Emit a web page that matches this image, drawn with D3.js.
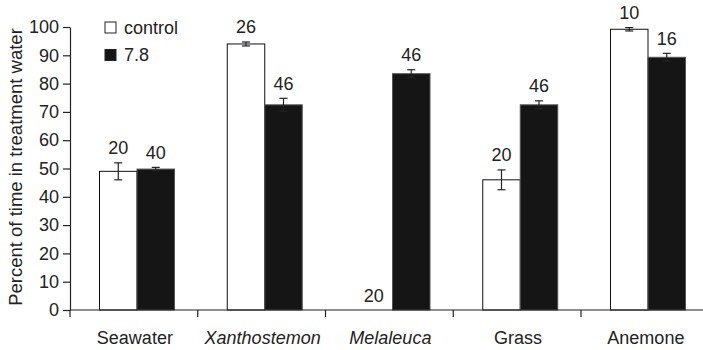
<!DOCTYPE html>
<html><head><meta charset="utf-8">
<script src="https://cdn.jsdelivr.net/npm/d3@7"></script>
<style>body{margin:0;background:#fff}svg{display:block;font-family:"Liberation Sans",Arial,sans-serif}</style>
</head><body><svg id="c" width="703" height="350"></svg>
<script>
const categories = ["Seawater","Xanthostemon","Melaleuca","Grass","Anemone"];
const italicCats = ["Xanthostemon","Melaleuca"];
const series = ["control","7.8"];
const controlMean = [49, 94, 0, 46, 99.2];
const controlErr  = [3, 0.7, 0, 3.5, 0.6];
const controlN    = [20, 26, 20, 20, 10];
const phMean = [49.8, 72.5, 83.5, 72.5, 89.3];
const phErr  = [0.6, 2.3, 1.4, 1.4, 1.4];
const phN    = [40, 46, 46, 46, 16];
const yTicks = [0,10,20,30,40,50,60,70,80,90,100];

const svg = d3.select("#c");
const x = d3.scaleBand().domain(categories).range([70, 708.75]).padding(0);
const x1 = d3.scaleBand().domain(series).range([29.5, 104.5]).padding(0);
const y = d3.scaleLinear().domain([0,100]).range([310, 27]);
const fills = {"control":"#fff","7.8":"#151515"};
const FS = 18;

const rows = [];
categories.forEach((c,i)=>{
  rows.push({c, s:"control", v:controlMean[i], e:controlErr[i], n:controlN[i]});
  rows.push({c, s:"7.8", v:phMean[i], e:phErr[i], n:phN[i]});
});

const g = svg.append("g");
g.selectAll("rect.bar").data(rows.filter(d=>d.v>0)).join("rect")
  .attr("x", d=>x(d.c)+x1(d.s)).attr("width", x1.bandwidth())
  .attr("y", d=>y(d.v)).attr("height", d=>y(0)-y(d.v))
  .attr("fill", d=>fills[d.s]).attr("stroke", d=>d.s==="control"?"#111":"#555").attr("stroke-width",1);

const cx = d=>x(d.c)+x1(d.s)+x1.bandwidth()/2;
const eb = g.selectAll("g.eb").data(rows.filter(d=>d.e>0)).join("g");
eb.append("line").attr("x1",cx).attr("x2",cx)
  .attr("y1",d=>y(d.v+d.e)).attr("y2",d=>y(d.v-d.e)).attr("stroke","#222").attr("stroke-width",1.2);
eb.append("line").attr("x1",d=>cx(d)-4).attr("x2",d=>cx(d)+4)
  .attr("y1",d=>y(d.v+d.e)).attr("y2",d=>y(d.v+d.e)).attr("stroke","#222").attr("stroke-width",1.2);
eb.append("line").attr("x1",d=>cx(d)-4).attr("x2",d=>cx(d)+4)
  .attr("y1",d=>y(d.v-d.e)).attr("y2",d=>y(d.v-d.e)).attr("stroke","#222").attr("stroke-width",1.2);

g.selectAll("text.n").data(rows).join("text")
  .attr("x", cx).attr("y", d=>y(d.v+d.e)-8.5)
  .attr("text-anchor","middle").attr("font-size",FS).attr("fill","#222").text(d=>d.n);

const ya = svg.append("g").attr("transform","translate(70,0)")
  .call(d3.axisLeft(y).tickValues(yTicks).tickSize(7).tickPadding(4).tickSizeOuter(0));
ya.selectAll("text").attr("font-size",FS).attr("fill","#222").attr("font-family","Liberation Sans, Arial, sans-serif");
ya.selectAll("line,path").attr("stroke","#222").attr("stroke-width",1.2);

const bounds = categories.map(c=>x(c));
const xa = svg.append("g");
xa.append("line").attr("x1",70).attr("x2",703).attr("y1",y(0)).attr("y2",y(0)).attr("stroke","#222").attr("stroke-width",1.2);
xa.selectAll("line.t").data(bounds).join("line").attr("x1",d=>d).attr("x2",d=>d)
  .attr("y1",y(0)).attr("y2",y(0)+7).attr("stroke","#222").attr("stroke-width",1.2);
xa.selectAll("text").data(categories).join("text")
  .attr("x", c=>x(c)+x.bandwidth()/2+1).attr("y", 344)
  .attr("text-anchor","middle").attr("font-size",FS).attr("fill","#222")
  .attr("font-style", c=>italicCats.includes(c)?"italic":"normal").text(c=>c);

svg.append("text").attr("transform","translate(21.5,167) rotate(-90)")
  .attr("text-anchor","middle").attr("font-size",18.5).attr("fill","#222")
  .text("Percent of time in treatment water");

const leg = svg.append("g");
series.forEach((s,i)=>{
  const yy = 22 + i*27.5;
  leg.append("rect").attr("x",105).attr("y",yy).attr("width",11).attr("height",11)
    .attr("fill",fills[s]).attr("stroke","#222").attr("stroke-width",1);
  leg.append("text").attr("x",124).attr("y",yy+11.5).attr("font-size",FS).attr("fill","#222").text(s);
});
</script></body></html>
